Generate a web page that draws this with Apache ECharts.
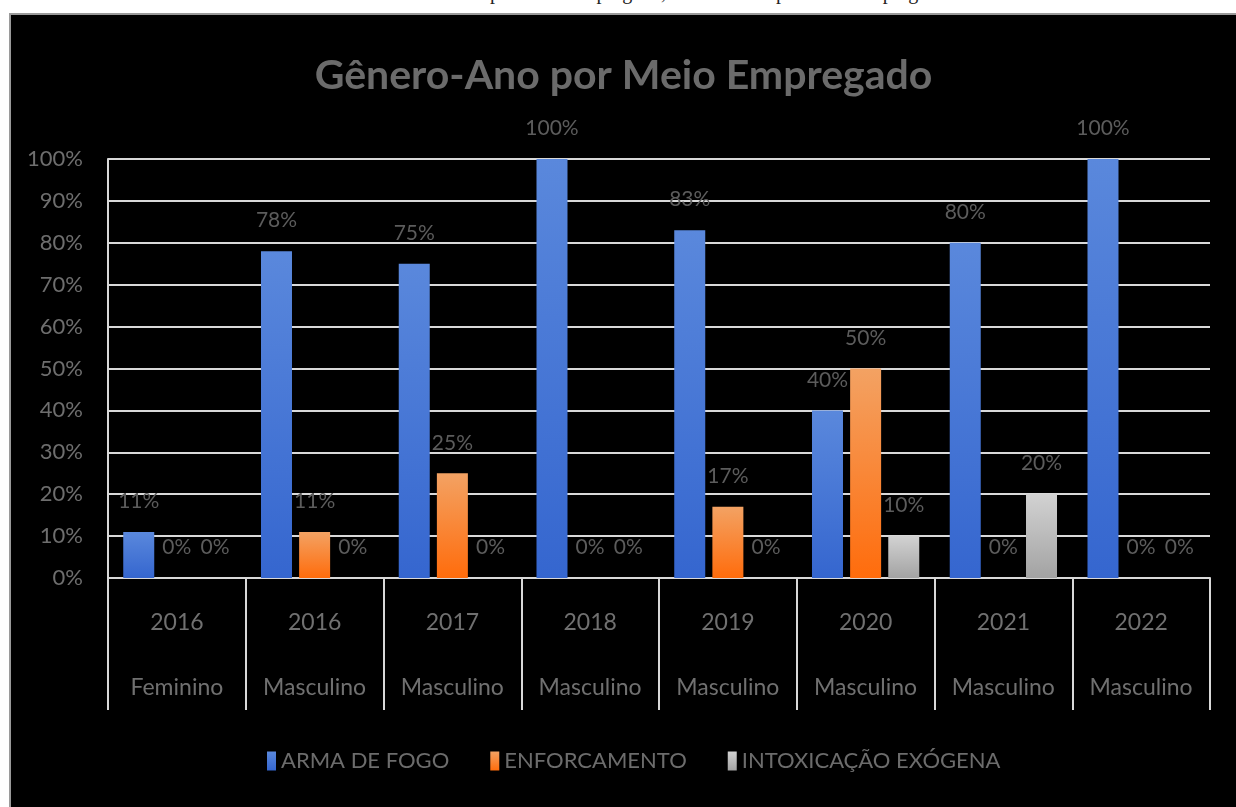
<!DOCTYPE html>
<html>
<head>
<meta charset="utf-8">
<script src="https://cdn.jsdelivr.net/npm/echarts@6/dist/echarts.min.js"></script>
<style>
  html, body { margin: 0; padding: 0; background: #ffffff; width: 1236px; height: 807px; overflow: hidden; position: relative; }
  #caption { position: absolute; left: 0; top: -19px; width: 1236px; text-align: center; font-family: "Liberation Serif", serif; font-size: 20px; color: #222; white-space: nowrap; }
  #frame { position: absolute; left: 9px; top: 13px; width: 1240px; height: 810px; border: 2px solid #9a9a9a; background: #000; }
  #chart { position: absolute; left: 0; top: 0; width: 1225px; height: 792px; }
</style>
</head>
<body>
<div id="caption">Gráfico 4 – Gênero-Ano por Meio Empregado, Gênero-Ano por Meio Empregado</div>
<div id="frame"><div id="chart"></div></div>
<script>
const years = ['2016', '2016', '2017', '2018', '2019', '2020', '2021', '2022'];
const genders = ['Feminino', 'Masculino', 'Masculino', 'Masculino', 'Masculino', 'Masculino', 'Masculino', 'Masculino'];
const seriesNames = ['ARMA DE FOGO', 'ENFORCAMENTO', 'INTOXICAÇÃO EXÓGENA'];
const armaDeFogo = [11, 78, 75, 100, 83, 40, 80, 100];
const enforcamento = [0, 11, 25, 0, 17, 50, 0, 0];
const intoxicacao = [0, 0, 0, 0, 0, 10, 20, 0];
const yTicks = [0, 10, 20, 30, 40, 50, 60, 70, 80, 90, 100];

const FONT = 'Lato, "Open Sans", sans-serif';
const categories = years.map((y, i) => y + '\n' + genders[i]);

function grad(top, bottom) {
  return new echarts.graphic.LinearGradient(0, 0, 0, 1, [
    { offset: 0, color: top }, { offset: 1, color: bottom }
  ]);
}
const colors = [grad('#5a88dc', '#3566cf'), grad('#f3a263', '#ff6c0c'), grad('#d2d2d2', '#a3a3a3')];
const legendColors = ['#3f72d4', '#f47f2a', '#bcbcbc'];
const dataArrays = [armaDeFogo, enforcamento, intoxicacao];

const chart = echarts.init(document.getElementById('chart'), null, { renderer: 'canvas' });
chart.setOption({
  backgroundColor: '#000000',
  animation: false,
  color: legendColors,
  title: {
    text: 'Gênero-Ano por Meio Empregado',
    left: 'center',
    top: 34,
    textStyle: { fontFamily: FONT, fontSize: 41, fontWeight: 'bold', color: '#6b6b6b', lineHeight: 44 }
  },
  legend: {
    data: seriesNames,
    left: 251,
    top: 730,
    itemWidth: 9,
    itemHeight: 19,
    itemGap: 41,
    icon: 'rect',
    textStyle: { fontFamily: FONT, fontSize: 22, color: '#6c6c6c' }
  },
  grid: { left: 97, top: 144, width: 1102, height: 419, containLabel: false },
  xAxis: {
    type: 'category',
    data: categories,
    boundaryGap: true,
    axisLine: { show: true, lineStyle: { color: '#d9d9d9', width: 2 } },
    axisTick: { show: true, interval: 0, length: 132, lineStyle: { color: '#d9d9d9', width: 2 } },
    axisLabel: {
      interval: 0, margin: 12, fontFamily: FONT, fontSize: 23, lineHeight: 65, color: '#707070'
    },
    splitLine: { show: false }
  },
  yAxis: {
    type: 'value',
    min: 0, max: 100, interval: 10,
    axisLine: { show: true, lineStyle: { color: '#d9d9d9', width: 2 } },
    axisTick: { show: false },
    axisLabel: {
      margin: 25, fontFamily: FONT, fontSize: 22, color: '#6e6e6e',
      formatter: v => yTicks.includes(v) ? v + '%' : ''
    },
    splitLine: { show: true, lineStyle: { color: '#d9d9d9', width: 2 } }
  },
  series: seriesNames.map((name, k) => ({
    name: name,
    type: 'bar',
    data: dataArrays[k],
    barWidth: 31,
    barGap: '23%',
    itemStyle: { color: colors[k] },
    label: {
      show: true, position: 'top', distance: 20,
      fontFamily: FONT, fontSize: 21, color: '#5c5c5c',
      formatter: p => p.value + '%'
    }
  }))
});
</script>
</body>
</html>
